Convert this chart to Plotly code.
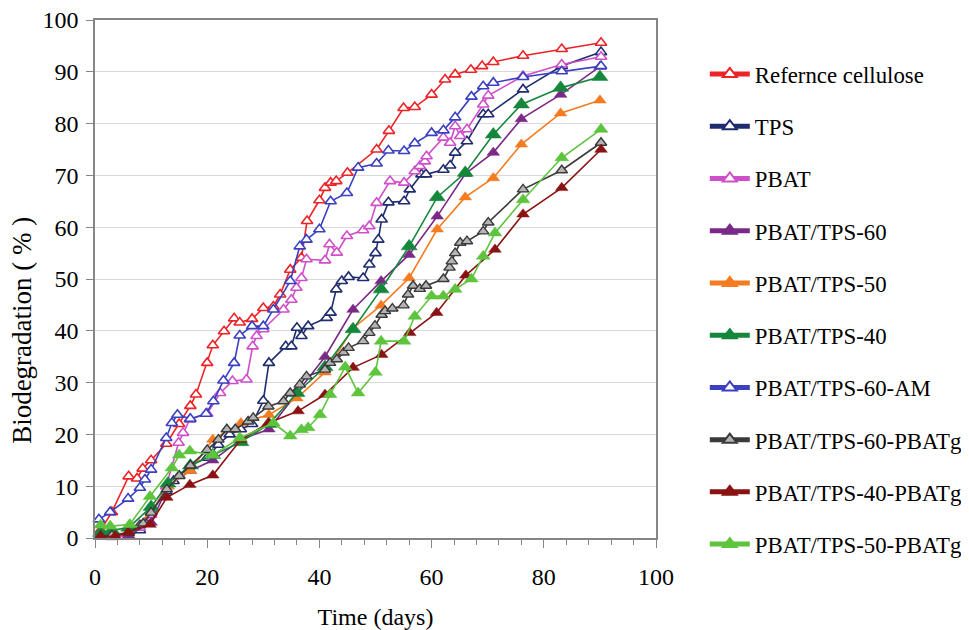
import plotly.graph_objects as go

# ---------------- data ----------------
names = ["Refernce cellulose", "TPS", "PBAT", "PBAT/TPS-60", "PBAT/TPS-50",
         "PBAT/TPS-40", "PBAT/TPS-60-AM", "PBAT/TPS-60-PBATg",
         "PBAT/TPS-40-PBATg", "PBAT/TPS-50-PBATg"]

ref_days = [1, 3, 6, 7.5, 8.5, 10, 12.7, 15, 17, 18, 20, 21, 23, 24.8, 25.8, 28, 30, 31.8, 33,
            34.8, 36.8, 37.8, 40, 41, 42, 43, 45, 50.2, 52.4, 55, 57, 60, 62.4, 64.2, 67, 69,
            71, 76.3, 83.2, 90.2]
ref_vals = [1.5, 5, 11.9, 11.5, 13.4, 15, 18.2, 22, 25.5, 27.7, 33.8, 37.2, 39.9, 42.4, 41.6,
            42.3, 44.4, 44.7, 47, 51.8, 54.1, 61.2, 65.2, 67.6, 68.6, 68.9, 70.5, 75, 78.6, 83,
            83.2, 85.6, 88.5, 89.5, 90.4, 91.1, 91.9, 93.1, 94.4, 95.6]

tps_days = [1, 3, 6, 8, 9, 10, 12.7, 14, 15, 17, 20, 22, 24, 26, 28, 30, 31, 34, 35, 36, 36.8,
            38, 41.3, 42, 43, 44, 45.2, 47.8, 48.9, 50, 50.5, 51.1, 52.3, 55.1, 56.1, 58.2, 59,
            62.1, 63.3, 64.2, 66.3, 69.2, 70.1, 76.3, 83.2, 90.2]
tps_vals = [0.8, 0.5, 0.3, 1.5, 3, 5, 9, 11, 12, 14, 15.5, 18, 20, 21, 22, 26.5, 33.8, 37, 37,
            40.6, 39, 40.9, 42.5, 43.5, 48, 49.6, 50.4, 50.2, 52.8, 55, 57.6, 61.5, 64.8, 65,
            67.3, 70.2, 70.2, 71.1, 71.9, 74.4, 76.6, 81.8, 81.8, 86.6, 91.1, 93.8]

pbat_days = [1, 3, 6, 8, 10, 12.7, 14.9, 15.7, 16.9, 20, 22.3, 24.5, 27, 28.1, 28.8, 30, 33.6,
             35, 35.9, 36.8, 37.7, 41, 41.8, 43.1, 44.9, 47.8, 48.9, 50.2, 52.6, 55.1, 57,
             57.9, 58.8, 59.1, 62.1, 63.3, 64.2, 65.1, 66.3, 69.2, 70.1, 76.3, 83.2, 90.2]
pbat_vals = [0.3, 0.2, 0.5, 2, 4.5, 10, 18.4, 20.3, 22.9, 24, 28, 30.3, 30.6, 37, 39, 40.3,
             44.1, 46, 48.3, 50.2, 53.8, 53.6, 56.7, 55.1, 58.3, 59.4, 60.2, 64.7, 68.9, 68.6,
             70.8, 71.8, 72.7, 73.7, 77.3, 76.3, 79.5, 77.6, 78.9, 83.7, 85.4, 89.2, 91.4, 92.9]

p60_days = [1, 6, 10, 13, 17, 21, 26, 31, 36, 41, 46, 51, 56, 61, 66, 71, 76, 83, 90]
p60_vals = [1, 0.5, 3, 10, 13, 15, 19, 21, 28, 35, 44.1, 49.6, 54.7, 62.1, 70.3, 74.4, 80.9,
            85.6, 91]

p50_days = [1, 6, 10, 13, 17, 21, 26, 31, 36, 41, 46, 51, 56, 61, 66, 71, 76, 83, 90]
p50_vals = [0.5, 1, 5, 10, 13, 19, 22.2, 23.8, 27, 32, 40.5, 44.9, 50.2, 59.6, 65.8, 69.5, 76,
            82, 84.5]

p40_days = [1, 3, 6, 10, 13, 17, 21, 26, 31, 36, 41, 46, 51, 56, 61, 66, 71, 76, 83, 90]
p40_vals = [1, 1.5, 2, 6, 10.5, 14, 16, 18.5, 22, 28, 33, 40.3, 48, 56.3, 65.8, 70.5, 77.9,
            83.7, 86.9, 89]

am_days = [0.7, 2.7, 5.9, 8, 8.9, 10, 12.7, 13.7, 14.7, 17, 19.8, 21.1, 22.9, 24.8, 25.8, 28,
           30, 31.8, 34.8, 36.5, 37.7, 40, 42, 44.9, 46.9, 50.2, 52.3, 55.1, 57, 60, 62.1,
           64.2, 67.1, 69.2, 71, 76.3, 83.2, 90.2]
am_vals = [3.6, 5, 7.6, 9.7, 11.3, 13.2, 19.3, 22.2, 23.8, 23, 24, 26.4, 30.4, 33.8, 39.1,
           40.9, 40.9, 44.1, 49.6, 56.3, 57.6, 59.6, 65, 66.6, 71.5, 72.3, 74.8, 74.7, 76.2,
           78.2, 78.7, 81.2, 85.2, 87.2, 87.9, 89, 90.1, 91.1]

g60_days = [1, 3, 6, 8, 8.6, 10, 12.8, 15, 17, 20, 22, 23.5, 25, 27.3, 28.2, 30.9, 33.6, 34.8,
            36.5, 37.7, 41, 41.9, 43.1, 44.3, 45.2, 47.8, 48.9, 49.9, 51.1, 51.7, 53, 55, 55.8,
            56.7, 57.9, 59, 62.1, 63.2, 63.6, 64.2, 65.1, 66.3, 69.2, 70.1, 76.3, 83.2, 90.2]
g60_vals = [0.4, 0.5, 1, 2.5, 2.8, 4.9, 9.4, 12, 14, 17, 19, 21, 21, 22.5, 23.2, 25.4, 26.4, 28,
            29.6, 31.2, 32.5, 33.8, 34.5, 35.8, 36.7, 38, 39.6, 41, 43.1, 43.8, 44.3, 44.9, 47,
            48.7, 48.1, 48.7, 50, 52.2, 53.4, 55, 57, 57.3, 59.2, 60.9, 67.3, 71, 76.3]

g40_days = [1, 3.6, 5.9, 9.8, 12.8, 16.9, 21, 26, 30.9, 36.2, 41, 46, 51.1, 56.1, 60.9, 66.1,
            71.3, 76.3, 83.2, 90.2]
g40_vals = [0.3, 0.4, 1.1, 2.6, 7.8, 10.3, 12.1, 19, 22.2, 24.5, 27.7, 32.9, 35.4, 39.6, 43.5,
            50.7, 55.7, 62.5, 67.6, 75]

g50_days = [1, 2.7, 6.2, 9.8, 13.7, 15, 16.9, 21, 25.8, 31.8, 34.8, 36.8, 38, 40.1, 41.9, 44.6,
            46.9, 50, 51, 55.1, 57, 60, 62.1, 64.2, 67.1, 69.2, 71.3, 76.3, 83.2, 90.2]
g50_vals = [2.5, 2.3, 2.6, 8, 13.5, 16, 16.8, 16, 19.3, 22.2, 19.7, 20.9, 21.3, 23.8, 27.7, 33,
            28, 32, 38, 38, 42.8, 46.7, 46.7, 48, 50, 54.4, 58.9, 65.3, 73.4, 78.9]

x_ticks = [0, 20, 40, 60, 80, 100]
y_ticks = [0, 10, 20, 30, 40, 50, 60, 70, 80, 90, 100]

x_title = "Time (days)"
y_title = "Biodegradation ( % )"

# ---------------- styling ----------------
series = [
    (ref_days, ref_vals, "#ec2327", "open", 10),
    (tps_days, tps_vals, "#1f2d6e", "open", 10),
    (pbat_days, pbat_vals, "#cf4fc9", "open", 10),
    (p60_days, p60_vals, "#7a2a86", "fill", 11),
    (p50_days, p50_vals, "#f47b20", "fill", 11),
    (p40_days, p40_vals, "#14873c", "fill", 14),
    (am_days, am_vals, "#3a40c0", "open", 10),
    (g60_days, g60_vals, "#3a3a3a", "grey", 10),
    (g40_days, g40_vals, "#8b1212", "fill", 11),
    (g50_days, g50_vals, "#5ec43e", "fill", 12),
]

FONT = "Liberation Serif"

fig = go.Figure()
for i, (d, v, col, kind, size) in enumerate(series):
    if kind == "open":
        marker = dict(symbol="triangle-up", size=size, color="white",
                      line=dict(color=col, width=1.6))
    elif kind == "grey":
        marker = dict(symbol="triangle-up", size=size, color="#b4b4b4",
                      line=dict(color=col, width=1.4))
    else:
        marker = dict(symbol="triangle-up", size=size, color=col,
                      line=dict(color=col, width=0.5))
    fig.add_trace(go.Scatter(
        x=d, y=v, mode="lines+markers", name=names[i],
        line=dict(color=col, width=1.6), marker=marker,
        legendgroup=f"g{i}", cliponaxis=False,
    ))

fig.update_layout(
    width=961, height=622,
    margin=dict(l=87, r=313, t=12, b=92, autoexpand=False),
    paper_bgcolor="white", plot_bgcolor="white",
    font=dict(family=FONT, size=22, color="black"),
    showlegend=True,
    legend=dict(x=1.087, y=0.937, xanchor="left", yanchor="top",
                font=dict(family=FONT, size=22.8, color="black"),
                tracegroupgap=19.6, bgcolor="rgba(0,0,0,0)", maxheight=620,
                itemsizing="constant", itemwidth=40),
    xaxis=dict(range=[0, 100], tickvals=x_ticks, ticks="outside", ticklen=8,
               tickcolor="#868686", showline=True, linecolor="#868686", linewidth=1.5,
               mirror=True, showgrid=False, zeroline=False, ticklabelstandoff=8,
               automargin=False, ticklabeloverflow="allow",
               minor=dict(dtick=4, ticks="outside", ticklen=5, tickcolor="#868686"),
               tickfont=dict(family=FONT, size=24),
               title=dict(text=x_title, font=dict(family=FONT, size=24), standoff=22)),
    yaxis=dict(range=[0, 100], tickvals=y_ticks, ticks="outside", ticklen=7,
               tickcolor="#868686", showline=True, linecolor="#868686", linewidth=1.5,
               mirror=True, showgrid=True, gridcolor="#d9d9d9", gridwidth=1.2,
               zeroline=False, tickfont=dict(family=FONT, size=24), ticklabelstandoff=3,
               automargin=False, ticklabeloverflow="allow"),
    annotations=[dict(text=y_title, xref="paper", yref="paper",
                      x=-0.130, y=0.40, xanchor="center", yanchor="middle",
                      textangle=-90, showarrow=False,
                      font=dict(family=FONT, size=27, color="black"))],
)

fig.write_html("out.html")
